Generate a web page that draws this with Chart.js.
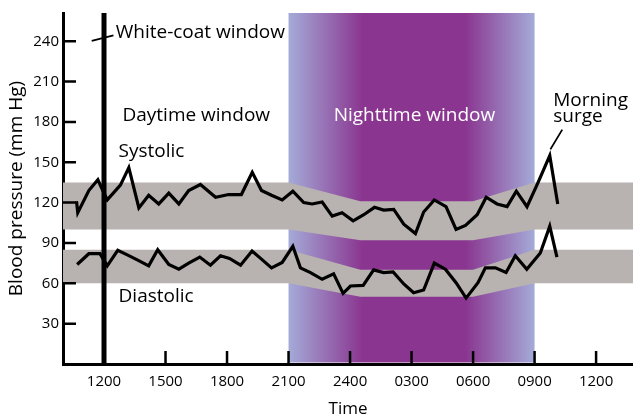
<!DOCTYPE html>
<html>
<head>
<meta charset="utf-8">
<script src="https://cdn.jsdelivr.net/npm/chart.js@4.4.0/dist/chart.umd.min.js"></script>
<style>
  html, body { margin: 0; padding: 0; background: #fff; }
  #wrap { width: 633px; height: 419px; }
</style>
</head>
<body>
<div id="wrap"><canvas id="bpChart"></canvas></div>
<script>
// hours counted from midnight of day 1 (24 = midnight, 33 = 0900 next day)
const sysHours = [10.66,10.72,11.26,11.70,11.94,12.16,12.80,13.21,13.70,14.18,14.67,15.16,15.65,16.13,16.70,17.44,18.08,18.70,19.23,19.68,20.17,20.69,21.21,21.74,22.15,22.64,23.13,23.61,24.15,24.67,25.19,25.64,26.13,26.62,27.19,27.59,28.11,28.68,29.17,29.63,30.20,30.64,31.17,31.66,32.11,32.63,33.14,33.74,34.13];
const systolic = [121,112.5,129,137,129,122,133,146,116,125.5,119,127,119,129,133.5,124,126,126,142.5,129,125.5,122,128.5,120,119,120.5,110,112.5,106.5,111,116.5,114.5,115,104,97,113,122,117,100,103,111,124,119,117,128.5,117,134,155,119];

const diaHours = [10.69,11.26,11.80,12.16,12.67,13.16,13.67,14.18,14.62,15.16,15.65,16.13,16.67,17.19,17.68,18.12,18.66,19.22,19.68,20.17,20.69,21.21,21.58,22.07,22.64,23.20,23.66,24.02,24.64,25.15,25.64,26.10,26.62,27.10,27.59,28.11,28.65,29.17,29.66,30.24,30.60,31.09,31.61,32.06,32.62,33.28,33.74,34.09];
const diastolic = [74,82,82,73,84.5,81,77,73,85,74,70.5,75,79.5,73.5,80.5,78.5,73.5,84,78,71.5,75.5,87.5,71.5,68,63,67,52.5,58,58.5,70,68,68.5,59.5,53,55,75,70.5,60.5,49,60.5,71.5,71.5,68,80.5,70.5,82.5,102.5,79.5];

// normal ranges (grey bands), dipping during the night
const bandHours = [9, 21, 24.5, 30, 33, 39];
const sysBandLow = [100, 100, 92, 92, 100, 100];
const sysBandHigh = [135, 135, 121, 121, 135, 135];
const diaBandLow = [60, 60, 50, 50, 60, 60];
const diaBandHigh = [85, 85, 70, 70, 85, 85];

const tickHours = [12, 15, 18, 21, 24, 27, 30, 33, 36];
const tickLabels = ['1200', '1500', '1800', '2100', '2400', '0300', '0600', '0900', '1200'];
const yTicks = [30, 60, 90, 120, 150, 180, 210, 240];

const nightStart = 21, nightEnd = 33;
const whiteCoatHour = 12;

const pts = (xs, ys) => xs.map((x, i) => ({ x: x, y: ys[i] }));
const FONT = '"Open Sans", "DejaVu Sans", sans-serif';
const GREY = '#b8b3b0';

const overlay = {
    id: 'overlay',
    beforeDatasetsDraw(chart) {
        const { ctx, chartArea: a, scales: { x } } = chart;
        const x0 = x.getPixelForValue(nightStart);
        const x1 = x.getPixelForValue(nightEnd);
        const g = ctx.createLinearGradient(x0, 0, x1, 0);
        g.addColorStop(0, '#a4abd8');
        g.addColorStop(0.3, '#8a3690');
        g.addColorStop(0.72, '#8a3690');
        g.addColorStop(1, '#a4abd8');
        ctx.save();
        ctx.fillStyle = g;
        ctx.fillRect(x0, a.top, x1 - x0, a.bottom - a.top - 1.5);
        ctx.restore();
    },
    afterDatasetsDraw(chart) {
        const { ctx, chartArea: a, scales: { x, y } } = chart;
        ctx.save();
        // white-coat bar
        const wx = x.getPixelForValue(whiteCoatHour);
        ctx.fillStyle = '#000';
        ctx.fillRect(wx - 2.5, a.top, 5, a.bottom - a.top);

        // inward tick marks
        ctx.strokeStyle = '#000';
        ctx.lineWidth = 2.5;
        ctx.beginPath();
        yTicks.forEach(v => {
            const py = y.getPixelForValue(v);
            ctx.moveTo(a.left, py);
            ctx.lineTo(a.left + 13, py);
        });
        tickHours.forEach(h => {
            const px = x.getPixelForValue(h);
            ctx.moveTo(px, a.bottom);
            ctx.lineTo(px, a.bottom - 13);
        });
        ctx.stroke();

        // leader lines
        ctx.lineWidth = 1.8;
        ctx.beginPath();
        ctx.moveTo(x.getPixelForValue(11.40), y.getPixelForValue(240.2));
        ctx.lineTo(x.getPixelForValue(12.46), y.getPixelForValue(244.3));
        ctx.moveTo(x.getPixelForValue(34.35), y.getPixelForValue(174.3));
        ctx.lineTo(x.getPixelForValue(33.77), y.getPixelForValue(159.6));
        ctx.stroke();

        // labels
        ctx.font = '19px ' + FONT;
        ctx.textBaseline = 'middle';
        ctx.textAlign = 'left';
        ctx.fillStyle = '#000';
        const put = (t, h, v) => ctx.fillText(t, x.getPixelForValue(h), y.getPixelForValue(v));
        put('White-coat window', 12.57, 246.3);
        put('Daytime window', 12.90, 184.6);
        put('Systolic', 12.71, 158.1);
        put('Diastolic', 12.71, 50.2);
        put('Morning', 33.91, 195.6);
        put('surge', 33.91, 183.6);
        ctx.textAlign = 'center';
        ctx.fillStyle = '#fff';
        put('Nighttime window', 27.14, 184.6);
        ctx.restore();
    }
};

const ctx = document.getElementById('bpChart').getContext('2d');
const bpChart = new Chart(ctx, {
    type: 'line',
    data: {
        datasets: [
            {
                label: 'Systolic',
                data: pts(sysHours, systolic),
                borderColor: '#000',
                borderWidth: 3.2,
                borderJoinStyle: 'miter',
                pointRadius: 0,
                tension: 0,
                fill: false
            },
            {
                label: 'Diastolic',
                data: pts(diaHours, diastolic),
                borderColor: '#000',
                borderWidth: 3.2,
                borderJoinStyle: 'miter',
                pointRadius: 0,
                tension: 0,
                fill: false
            },
            { data: pts(bandHours, sysBandLow), borderWidth: 0, pointRadius: 0, fill: false },
            { data: pts(bandHours, sysBandHigh), borderWidth: 0, pointRadius: 0, backgroundColor: GREY, fill: { target: 2 } },
            { data: pts(bandHours, diaBandLow), borderWidth: 0, pointRadius: 0, fill: false },
            { data: pts(bandHours, diaBandHigh), borderWidth: 0, pointRadius: 0, backgroundColor: GREY, fill: { target: 4 } }
        ]
    },
    options: {
        responsive: true,
        maintainAspectRatio: false,
        animation: false,
        events: [],
        layout: {
            padding: { top: 9, left: 0, right: 0, bottom: 0 }
        },
        plugins: {
            legend: { display: false },
            tooltip: { enabled: false }
        },
        scales: {
            x: {
                type: 'linear',
                min: 10,
                max: 37.8,
                afterFit: s => { s.height = 55; },
                afterBuildTicks: s => { s.ticks = tickHours.map(v => ({ value: v })); },
                grid: { display: false, drawTicks: false },
                border: { display: true, color: '#000', width: 3 },
                ticks: {
                    color: '#000',
                    padding: 9,
                    maxRotation: 0,
                    font: { family: FONT, size: 15 },
                    callback: v => tickLabels[tickHours.indexOf(v)]
                },
                title: {
                    display: true,
                    text: 'Time',
                    color: '#000',
                    padding: 0,
                    font: { family: FONT, size: 17 }
                }
            },
            y: {
                min: 0,
                max: 261,
                afterFit: s => { s.width = 63; },
                afterBuildTicks: s => { s.ticks = yTicks.map(v => ({ value: v })); },
                grid: { display: false, drawTicks: false },
                border: { display: true, color: '#000', width: 3 },
                ticks: {
                    color: '#000',
                    padding: 4,
                    font: { family: FONT, size: 15 }
                },
                title: {
                    display: true,
                    text: 'Blood pressure (mm Hg)',
                    color: '#000',
                    padding: { top: 5, bottom: 0 },
                    font: { family: FONT, size: 19 }
                }
            }
        }
    },
    plugins: [overlay]
});
</script>
</body>
</html>
